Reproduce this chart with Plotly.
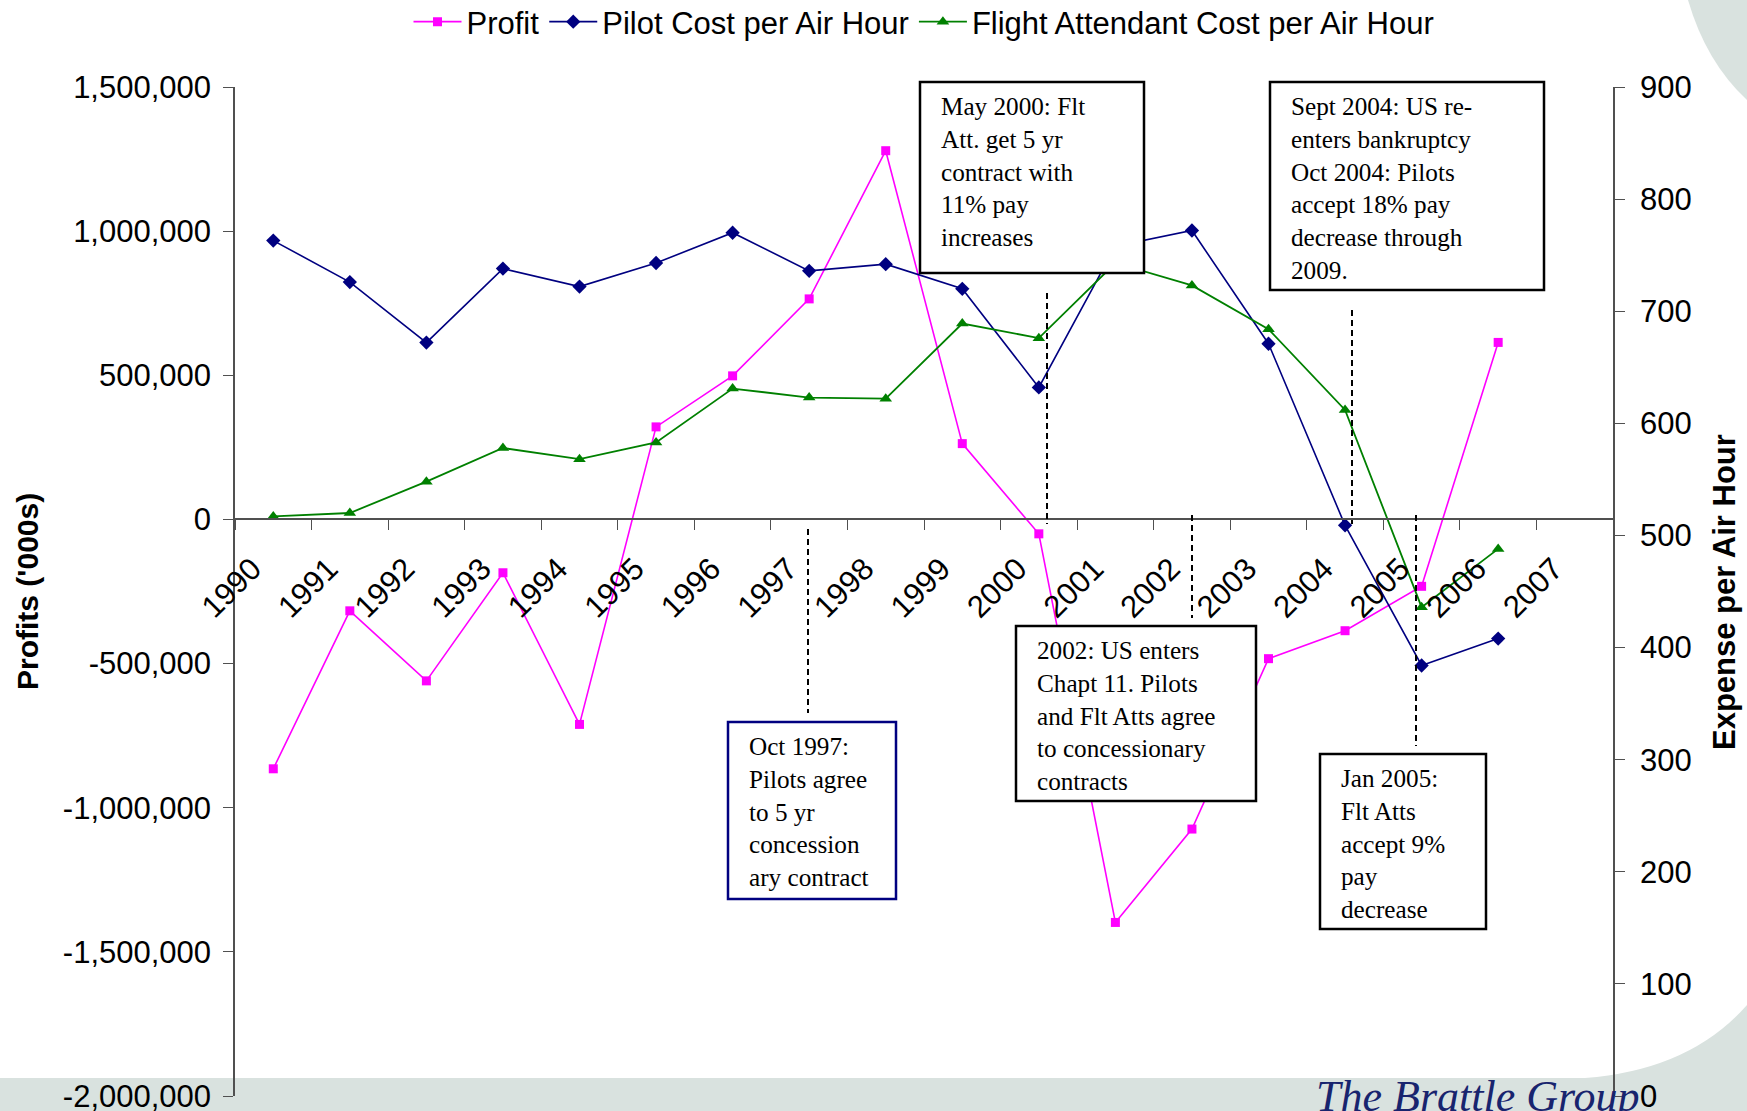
import plotly.graph_objects as go

# ---------------- data ----------------
years = [str(y) for y in range(1990, 2008)]          # axis categories
data_years = years[:17]                              # 1990-2006 have data
profit = [-865000, -317000, -560000, -185000, -711000, 321000, 498000, 765000,
          1279000, 263000, -50000, -1398000, -1074000, -483000, -386000, -232000, 614000]
pilot_cost = [763, 726, 672, 738, 722, 743, 770, 736, 742, 720, 632, 758, 772,
              671, 509, 384, 408]
fa_cost = [517, 520, 548, 578, 568, 583, 631, 623, 622, 689, 676, 743, 723,
           684, 612, 436, 488]

left_tickvals = [-2000000, -1500000, -1000000, -500000, 0, 500000, 1000000, 1500000]
left_ticktext = ["-2,000,000", "-1,500,000", "-1,000,000", "-500,000", "0",
                 "500,000", "1,000,000", "1,500,000"]
right_tickvals = [0, 100, 200, 300, 400, 500, 600, 700, 800, 900]
right_ticktext = [str(v) for v in right_tickvals]

notes = [
    "May 2000: Flt<br>Att. get 5 yr<br>contract with<br>11% pay<br>increases",
    "Sept 2004: US re-<br>enters bankruptcy<br>Oct 2004: Pilots<br>accept 18% pay<br>decrease through<br>2009.",
    "Oct 1997:<br>Pilots agree<br>to 5 yr<br>concession<br>ary contract",
    "2002: US enters<br>Chapt 11. Pilots<br>and Flt Atts agree<br>to concessionary<br>contracts",
    "Jan 2005:<br>Flt Atts<br>accept 9%<br>pay<br>decrease",
]

# ---------------- layout geometry (pixels) ----------------
W, H = 1747, 1111
L, R, T, B = 235, 1613, 87, 1096
PW, PH = R - L, B - T


def px(x):
    return (x - L) / PW


def py(y):
    return (B - y) / PH


yl_range = [-2000000, 1500000]
yr_range = [0, 900]
zero_pos = (0 - yl_range[0]) / (yl_range[1] - yl_range[0])

SANS = "Liberation Sans, Arial, sans-serif"
SERIF = "Liberation Serif, Times New Roman, serif"
AX = "#505050"
TICK_SIZE = 31

fig = go.Figure()
fig.add_trace(go.Scatter(x=data_years, y=profit, name="Profit", mode="lines+markers",
                         line=dict(color="#ff00ff", width=1.6),
                         marker=dict(symbol="square", size=9, color="#ff00ff"),
                         yaxis="y"))
fig.add_trace(go.Scatter(x=data_years, y=pilot_cost, name="Pilot Cost per Air Hour",
                         mode="lines+markers", line=dict(color="#000080", width=1.6),
                         marker=dict(symbol="diamond", size=11, color="#000080"),
                         yaxis="y2"))
fig.add_trace(go.Scatter(x=data_years, y=fa_cost, name="Flight Attendant Cost per Air Hour",
                         mode="lines+markers", line=dict(color="#008000", width=1.8),
                         marker=dict(symbol="triangle-up", size=11, color="#008000"),
                         yaxis="y2"))

shapes = []
# background decoration
BG = "#d9e2df"
shapes.append(dict(type="rect", xref="paper", yref="paper", x0=px(0), x1=px(W),
                   y0=py(H), y1=py(1078), fillcolor=BG, line=dict(width=0), layer="below"))
shapes.append(dict(type="path", xref="paper", yref="paper", layer="below",
                   path=f"M {px(1585)},{py(1078)} Q {px(1690)},{py(1070)} {px(W)},{py(1005)} "
                        f"L {px(W)},{py(H)} L {px(1585)},{py(H)} Z",
                   fillcolor=BG, line=dict(width=0)))
shapes.append(dict(type="path", xref="paper", yref="paper", layer="below",
                   path=f"M {px(1688)},{py(0)} Q {px(1706)},{py(62)} {px(W)},{py(100)} "
                        f"L {px(W)},{py(0)} Z",
                   fillcolor=BG, line=dict(width=0)))

# dashed leader lines
dashes = [(808, 529, 713), (1047, 293, 524), (1192, 515, 618), (1352, 310, 524), (1416, 515, 746)]
for x, y0, y1 in dashes:
    shapes.append(dict(type="line", xref="paper", yref="paper", x0=px(x), x1=px(x),
                       y0=py(y0), y1=py(y1), line=dict(color="black", width=2, dash="6px,4px"),
                       layer="above"))

# note boxes (x0, y0, x1, y1, border colour)
boxes = [(920, 82, 1144, 273, "black"),
         (1270, 82, 1544, 290, "black"),
         (728, 722, 896, 899, "#000080"),
         (1016, 626, 1256, 801, "black"),
         (1320, 754, 1486, 929, "black")]
annotations = []
for (x0, y0, x1, y1, col), txt in zip(boxes, notes):
    shapes.append(dict(type="rect", xref="paper", yref="paper", x0=px(x0), x1=px(x1),
                       y0=py(y1), y1=py(y0), fillcolor="white",
                       line=dict(color=col, width=2.5), layer="above"))
    annotations.append(dict(xref="paper", yref="paper", x=px(x0 + 19), y=py(y0 + 9),
                            xanchor="left", yanchor="top", align="left", showarrow=False,
                            text=txt, font=dict(family=SERIF, size=25.2, color="black")))

# axis titles
annotations.append(dict(xref="paper", yref="paper", x=px(27), y=py(592), textangle=-90,
                        xanchor="center", yanchor="middle",
                        showarrow=False, text="<b>Profits ('000s)</b>",
                        font=dict(family=SANS, size=30, color="black")))
annotations.append(dict(xref="paper", yref="paper", x=px(1724), y=py(592), textangle=-90,
                        xanchor="center", yanchor="middle",
                        showarrow=False, text="<b>Expense per Air Hour</b>",
                        font=dict(family=SANS, size=31, color="black")))
# logo text
annotations.append(dict(xref="paper", yref="paper", x=px(1314), y=py(1070), xanchor="left",
                        yanchor="top", showarrow=False, text="<i>The Brattle Group</i>",
                        font=dict(family=SERIF, size=44, color="#18246e")))

fig.update_layout(
    width=W, height=H, autosize=False,
    margin=dict(l=L, r=W - R, t=T, b=H - B, pad=0, autoexpand=False),
    paper_bgcolor="white", plot_bgcolor="rgba(0,0,0,0)",
    font=dict(family=SANS, size=TICK_SIZE, color="black"),
    showlegend=True,
    legend=dict(orientation="h", x=0.5, xanchor="center", y=py(22), yanchor="middle",
                font=dict(family=SANS, size=31, color="black"), bgcolor="rgba(0,0,0,0)",
                itemwidth=48, tracegroupgap=0),
    xaxis=dict(type="category", categoryorder="array", categoryarray=years,
               range=[-0.5, len(years) - 0.5], anchor="free", position=zero_pos,
               tickson="boundaries", ticks="outside", ticklen=10, tickwidth=1.2, tickcolor=AX,
               showline=True, linecolor=AX, linewidth=1.5, showgrid=False, zeroline=False,
               tickangle=-45, tickfont=dict(family=SANS, size=TICK_SIZE, color="black"),
               ticklabelshift=-21, ticklabelstandoff=18, automargin=False, fixedrange=True),
    xaxis2=dict(overlaying="x", anchor="free", position=zero_pos,
                range=[-0.5, len(years) - 0.5],
                tickvals=[i - 0.5 for i in range(len(years) + 1)],
                ticks="inside", ticklen=10, tickwidth=1.2, tickcolor=AX,
                showticklabels=False, showline=False, showgrid=False, zeroline=False,
                automargin=False),
    yaxis=dict(range=yl_range, tickvals=left_tickvals, ticktext=left_ticktext,
               ticks="outside", ticklen=10, tickwidth=1.2, tickcolor=AX,
               showline=True, linecolor=AX, linewidth=1.5, showgrid=False, zeroline=False,
               tickfont=dict(family=SANS, size=TICK_SIZE, color="black"), ticklabelstandoff=6,
               ticklabeloverflow="allow", automargin=False, anchor="x"),
    yaxis2=dict(range=yr_range, tickvals=right_tickvals, ticktext=right_ticktext,
                overlaying="y", side="right", anchor="x",
                ticks="outside", ticklen=10, tickwidth=1.2, tickcolor=AX,
                showline=True, linecolor=AX, linewidth=1.5, showgrid=False, zeroline=False,
                tickfont=dict(family=SANS, size=TICK_SIZE, color="black"), ticklabelstandoff=9,
                ticklabeloverflow="allow", automargin=False),
    yaxis3=dict(range=yl_range, tickvals=left_tickvals, overlaying="y", side="left",
                anchor="x", ticks="inside", ticklen=10, tickwidth=1.2, tickcolor=AX,
                showticklabels=False, showline=False, showgrid=False, zeroline=False,
                automargin=False),
    yaxis4=dict(range=yr_range, tickvals=right_tickvals, overlaying="y", side="right",
                anchor="x", ticks="inside", ticklen=10, tickwidth=1.2, tickcolor=AX,
                showticklabels=False, showline=False, showgrid=False, zeroline=False,
                automargin=False),
    shapes=shapes,
    annotations=annotations,
)

fig.write_html("out.html", config={"displayModeBar": False},
               post_script="document.body.style.margin='0';document.body.style.overflow='hidden';")
